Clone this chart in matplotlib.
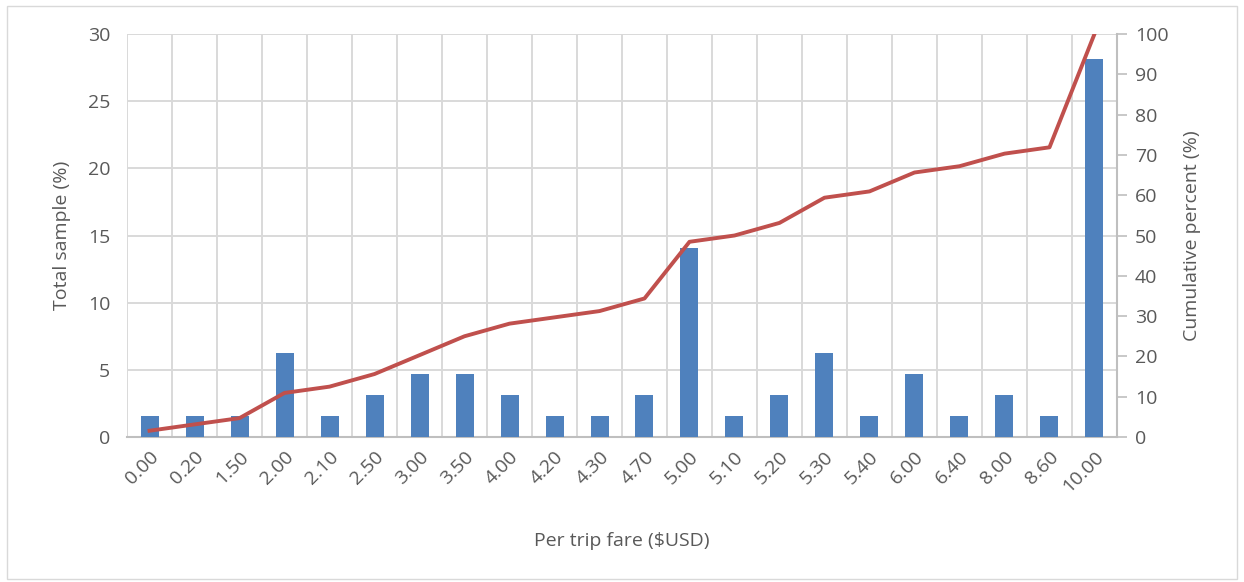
import matplotlib
matplotlib.use("Agg")
import matplotlib.pyplot as plt
from matplotlib.patches import Rectangle

categories = ["0.00", "0.20", "1.50", "2.00", "2.10", "2.50", "3.00", "3.50", "4.00", "4.20",
              "4.30", "4.70", "5.00", "5.10", "5.20", "5.30", "5.40", "6.00", "6.40", "8.00",
              "8.60", "10.00"]
sample_pct = [1.56, 1.56, 1.56, 6.25, 1.56, 3.13, 4.69, 4.69, 3.13, 1.56,
              1.56, 3.13, 14.06, 1.56, 3.13, 6.25, 1.56, 4.69, 1.56, 3.13,
              1.56, 28.13]
cumulative_pct = [1.56, 3.13, 4.69, 10.94, 12.50, 15.63, 20.31, 25.00, 28.13, 29.69,
                  31.25, 34.38, 48.44, 50.00, 53.13, 59.38, 60.94, 65.63, 67.19, 70.31,
                  71.88, 100.00]

plt.rcParams['font.family'] = ['Open Sans', 'DejaVu Sans']
TXT = '#595959'
GRID = '#d9d9d9'
FS = 14

fig = plt.figure(figsize=(12.44, 5.82), dpi=100)
fig.patches.append(Rectangle((0.006, 0.005), 0.988, 0.985, transform=fig.transFigure,
                             fill=False, edgecolor='#d9d9d9', linewidth=1))

ax = fig.add_axes([0.1021, 0.2491, 0.7958, 0.6925])
x = list(range(len(categories)))
ax.bar(x, sample_pct, width=0.4, color='#4f81bd', zorder=3)
ax.set_xlim(-0.5, len(categories) - 0.5)
ax.set_ylim(0, 30)
ax.set_yticks([0, 5, 10, 15, 20, 25, 30])
ax.set_xticks(x)
ax.set_xticklabels(categories, rotation=45, ha='right', rotation_mode='anchor')
ax.set_xticks([i - 0.5 for i in range(len(categories) + 1)], minor=True)
ax.grid(axis='y', which='major', color=GRID, linewidth=1.4, zorder=0)
ax.grid(axis='x', which='minor', color=GRID, linewidth=1.4, zorder=0)
ax.tick_params(axis='x', which='both', length=0, colors=TXT, labelsize=FS, pad=8)
ax.tick_params(axis='y', length=0, colors=TXT, labelsize=FS, pad=12)
for s in ['top', 'right', 'left']:
    ax.spines[s].set_visible(False)
ax.spines['bottom'].set_color('#bfbfbf')
ax.spines['bottom'].set_linewidth(1.5)
ax.set_xlabel('Per trip fare ($USD)', color=TXT, fontsize=FS, labelpad=26)
ax.set_ylabel('Total sample (%)', color=TXT, fontsize=FS, labelpad=12)

ax2 = ax.twinx()
ax2.plot(x, cumulative_pct, color='#c0504d', linewidth=2.8, zorder=4, clip_on=True)
ax2.set_ylim(0, 100)
ax2.set_yticks(range(0, 101, 10))
ax2.tick_params(axis='y', direction='out', length=7, width=1.2,
                colors=TXT, labelsize=FS, pad=6)
ax2.tick_params(axis='y', color='#bfbfbf')
for s in ['top', 'left', 'bottom']:
    ax2.spines[s].set_visible(False)
ax2.spines['right'].set_color('#bfbfbf')
ax2.spines['right'].set_linewidth(1.5)
ax2.set_ylabel('Cumulative percent (%)', color=TXT, fontsize=FS, labelpad=10)

fig.savefig('out.png', dpi=100)
